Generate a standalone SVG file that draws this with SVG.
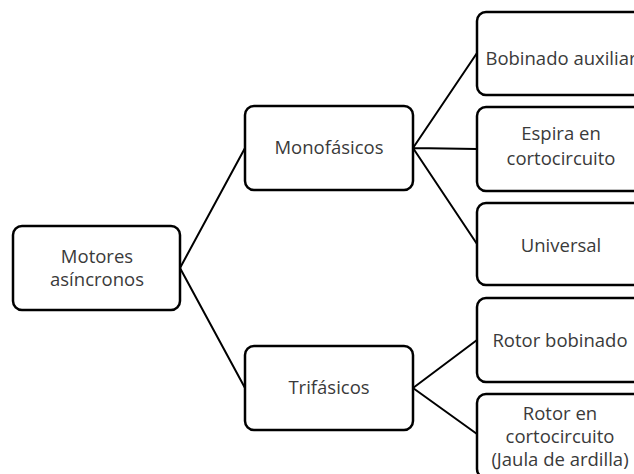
<svg xmlns="http://www.w3.org/2000/svg" width="634" height="474" viewBox="0 0 634 474">
<style>
.box{fill:#fff;stroke:#000;stroke-width:2.5}
.t{font-family:"Open Sans","Liberation Sans",sans-serif;font-size:18.5px;fill:#3a3a3a;text-anchor:middle}
.c{stroke:#000;stroke-width:2;fill:none}
</style>
<rect width="634" height="474" fill="#fff"/>
<g id="connectors">
<path class="c" d="M180 268L245 148M180 268L245 388M413 148L477 53M413 148L477 149M413 148L477 244M413 388L477 340M413 388L477 434"/>
</g>
<g id="root"><rect class="box" x="13" y="226" width="167" height="84" rx="9"/><text class="t" x="97" y="263">Motores</text><text class="t" x="97" y="286">asíncronos</text></g>
<g id="mono"><rect class="box" x="245" y="106" width="168" height="84" rx="9"/><text class="t" x="329" y="154">Monofásicos</text></g>
<g id="tri"><rect class="box" x="245" y="346" width="168" height="84" rx="9"/><text class="t" x="329" y="394">Trifásicos</text></g>
<g id="bobaux"><rect class="box" x="477" y="12" width="168" height="83" rx="9"/><text class="t" x="561" y="65">Bobinado auxiliar</text></g>
<g id="espira"><rect class="box" x="477" y="107" width="168" height="84" rx="9"/><text class="t" x="561" y="140">Espira en</text><text class="t" x="561" y="165">cortocircuito</text></g>
<g id="universal"><rect class="box" x="477" y="203" width="168" height="82" rx="9"/><text class="t" x="561" y="252">Universal</text></g>
<g id="rotbob"><rect class="box" x="477" y="298" width="168" height="84" rx="9"/><text class="t" x="560" y="347">Rotor bobinado</text></g>
<g id="rotcc"><rect class="box" x="477" y="394" width="168" height="84" rx="9"/><text class="t" x="560" y="420">Rotor en</text><text class="t" x="560" y="443">cortocircuito</text><text class="t" x="560" y="466">(Jaula de ardilla)</text></g>
</svg>
